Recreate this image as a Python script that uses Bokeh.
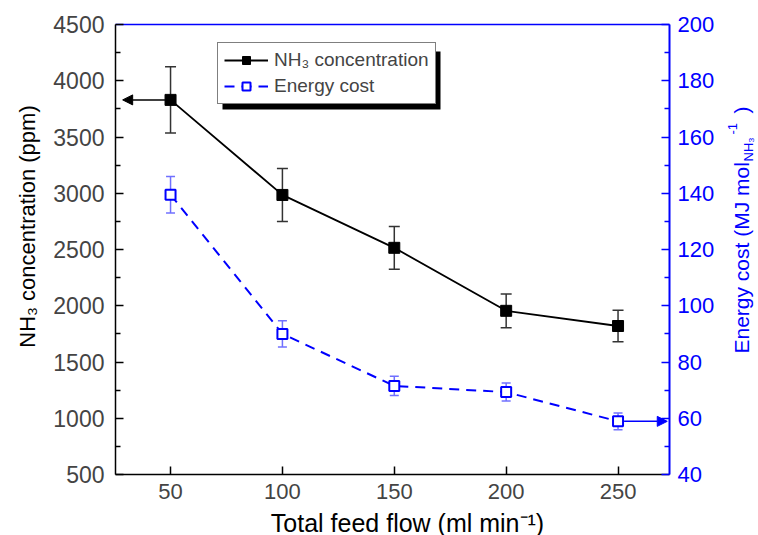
import math
from bokeh.plotting import figure
from bokeh.layouts import row, column
from bokeh.models import (Range1d, LinearAxis, Whisker, ColumnDataSource, Arrow, NormalHead,
                          Legend, LegendItem, Label, BoxAnnotation, FixedTicker, TeeHead)
from bokeh.embed import file_html
from bokeh.resources import INLINE

# ---- data ----
flow = [50, 100, 150, 200, 250]
nh3 = [3830, 2985, 2515, 1955, 1820]
nh3_err = [295, 235, 190, 150, 140]
energy = [139.5, 90.0, 71.5, 69.3, 58.9]
energy_err = [6.5, 4.7, 3.4, 3.2, 3.0]
x_ticks = [50, 100, 150, 200, 250]
left_ticks = [500, 1000, 1500, 2000, 2500, 3000, 3500, 4000, 4500]
right_ticks = [40, 60, 80, 100, 120, 140, 160, 180, 200]

FONT = "Liberation Sans"
BLUE = "#0000ff"

src1 = ColumnDataSource(dict(x=flow, y=nh3,
                             up=[v + e for v, e in zip(nh3, nh3_err)],
                             lo=[v - e for v, e in zip(nh3, nh3_err)]))
src2 = ColumnDataSource(dict(x=flow, y=energy,
                             up=[v + e for v, e in zip(energy, energy_err)],
                             lo=[v - e for v, e in zip(energy, energy_err)]))

MAIN_W, MAIN_H = 677, 509
p = figure(width=MAIN_W, height=MAIN_H, output_backend="svg", toolbar_location=None,
           x_range=Range1d(25.4, 273), y_range=Range1d(500, 4500),
           min_border_left=70, min_border_right=53, min_border_top=24, min_border_bottom=35)
p.extra_y_ranges = {"e": Range1d(40, 200)}
p.grid.visible = False
p.outline_line_color = None
p.background_fill_color = "white"

# bottom axis
xa = p.xaxis[0]
xa.ticker = FixedTicker(ticks=x_ticks)
xa.major_tick_in = 8
xa.major_tick_out = 0
xa.minor_tick_in = 0
xa.minor_tick_out = 0
xa.axis_line_width = 1.5
xa.major_tick_line_width = 1.5
xa.major_label_text_font = FONT
xa.major_label_text_font_size = "22px"
xa.major_label_standoff = 9

# left axis
ya = p.yaxis[0]
ya.ticker = FixedTicker(ticks=left_ticks, minor_ticks=[t + 250 for t in left_ticks[:-1]])
ya.major_tick_in = 8
ya.major_tick_out = 0
ya.minor_tick_in = 5
ya.minor_tick_out = 0
ya.axis_line_width = 1.5
ya.major_tick_line_width = 1.5
ya.minor_tick_line_width = 1.5
ya.major_label_text_font = FONT
ya.major_label_text_font_size = "23px"
ya.major_label_standoff = 11

# right axis
ra = LinearAxis(y_range_name="e",
                ticker=FixedTicker(ticks=right_ticks, minor_ticks=[t + 10 for t in right_ticks[:-1]]))
ra.major_tick_in = 8
ra.major_tick_out = 0
ra.minor_tick_in = 5
ra.minor_tick_out = 0
ra.axis_line_color = BLUE
ra.major_tick_line_color = BLUE
ra.minor_tick_line_color = BLUE
ra.axis_line_width = 2
ra.major_tick_line_width = 1.5
ra.minor_tick_line_width = 1.5
ra.major_label_text_color = BLUE
ra.major_label_text_font = FONT
ra.major_label_text_font_size = "22px"
ra.major_label_standoff = 8
p.add_layout(ra, "right")

# top axis (frame line only)
ta = LinearAxis(ticker=FixedTicker(ticks=[]))
ta.major_tick_in = 0
ta.major_tick_out = 0
ta.minor_tick_in = 0
ta.minor_tick_out = 0
ta.axis_line_color = BLUE
ta.axis_line_width = 1.5
ta.major_label_text_font_size = "0px"
p.add_layout(ta, "above")

# series 1: NH3 concentration
l1 = p.line("x", "y", source=src1, color="black", line_width=1.8)
w1 = Whisker(source=src1, base="x", upper="up", lower="lo", line_color="#333333", line_width=1.5,
             upper_head=TeeHead(size=11, line_color="#333333", line_width=1.5),
             lower_head=TeeHead(size=11, line_color="#333333", line_width=1.5))
p.add_layout(w1)
s1 = p.scatter("x", "y", source=src1, marker="square", size=11, color="black")

# series 2: energy cost
l2 = p.line("x", "y", source=src2, y_range_name="e", color=BLUE, line_width=2, line_dash="10 7")
w2 = Whisker(source=src2, base="x", upper="up", lower="lo", y_range_name="e",
             line_color="#7070ff", line_width=1.5,
             upper_head=TeeHead(size=9, line_color="#7070ff", line_width=1.5),
             lower_head=TeeHead(size=9, line_color="#7070ff", line_width=1.5))
p.add_layout(w2)
s2 = p.scatter("x", "y", source=src2, y_range_name="e", marker="square", size=10,
               fill_color="white", line_color=BLUE, line_width=2)

# arrows pointing to axes
p.add_layout(Arrow(end=NormalHead(size=10, fill_color="black", line_color="black"),
                   x_start=flow[0] - 2.5, y_start=nh3[0], x_end=p.x_range.start + 3.2, y_end=nh3[0],
                   line_color="black", line_width=1.5))
p.add_layout(Arrow(end=NormalHead(size=10, fill_color=BLUE, line_color=BLUE),
                   x_start=flow[-1] + 2.7, y_start=energy[-1], x_end=p.x_range.end - 1.0,
                   y_end=energy[-1], y_range_name="e",
                   line_color=BLUE, line_width=1.5))

# legend with shadow
shadow = BoxAnnotation(left=107, right=325, bottom=365, top=423,
                       left_units="screen", right_units="screen",
                       bottom_units="screen", top_units="screen",
                       fill_color="black", fill_alpha=1.0, line_color=None, level="underlay")
p.add_layout(shadow)
legend = Legend(items=[LegendItem(label="NH₃ concentration", renderers=[l1, s1]),
                       LegendItem(label="Energy cost", renderers=[l2, s2])],
                location=(102, 370), orientation="vertical",
                border_line_color="black", border_line_width=1.2,
                background_fill_color="white", background_fill_alpha=1.0,
                label_text_font=FONT, label_text_font_size="19px",
                glyph_width=44, glyph_height=20, label_height=20,
                spacing=4, padding=6, margin=0, label_standoff=6)
p.add_layout(legend)


# ---- axis titles in their own small panels ----
def label_fig(w, h):
    f = figure(width=w, height=h, output_backend="svg", toolbar_location=None,
               x_axis_location=None, y_axis_location=None, min_border=0,
               x_range=Range1d(0, 1), y_range=Range1d(0, 1))
    f.outline_line_color = None
    f.background_fill_color = "white"
    f.grid.visible = False
    f.xgrid.grid_line_color = None
    f.ygrid.grid_line_color = None
    return f


def add_text(f, x, y, text, size, color="black", angle=0.0, align="left"):
    f.add_layout(Label(x=x, y=y, x_units="screen", y_units="screen", text=text,
                       angle=angle, text_align=align, text_baseline="middle",
                       text_font=FONT, text_font_size=size, text_color=color))


# side panels share the main plot's top/bottom borders, so y is measured from the x axis line
FRAME_BOTTOM = 474
LEFT_W = 45
RIGHT_W = 36
lf = label_fig(LEFT_W, MAIN_H)
add_text(lf, 27, FRAME_BOTTOM - 226, "NH₃ concentration (ppm)", "22px", angle=math.pi / 2, align="center")

rf = label_fig(RIGHT_W, MAIN_H)
add_text(rf, 19, FRAME_BOTTOM - 353, "Energy cost (MJ mol", "21px", color=BLUE, angle=math.pi / 2)
add_text(rf, 26, FRAME_BOTTOM - 161, "NH₃", "13px", color=BLUE, angle=math.pi / 2)
add_text(rf, 10, FRAME_BOTTOM - 134, "-1", "13px", color=BLUE, angle=math.pi / 2)
add_text(rf, 19, FRAME_BOTTOM - 113, ")", "21px", color=BLUE, angle=math.pi / 2)

BOT_H = 26
bf = label_fig(LEFT_W + MAIN_W + RIGHT_W, BOT_H)
add_text(bf, 407, 13, "Total feed flow (ml min⁻¹)", "25px", align="center")

layout = column(row(lf, p, rf), bf)

open("out.html", "w").write(file_html(layout, INLINE))
